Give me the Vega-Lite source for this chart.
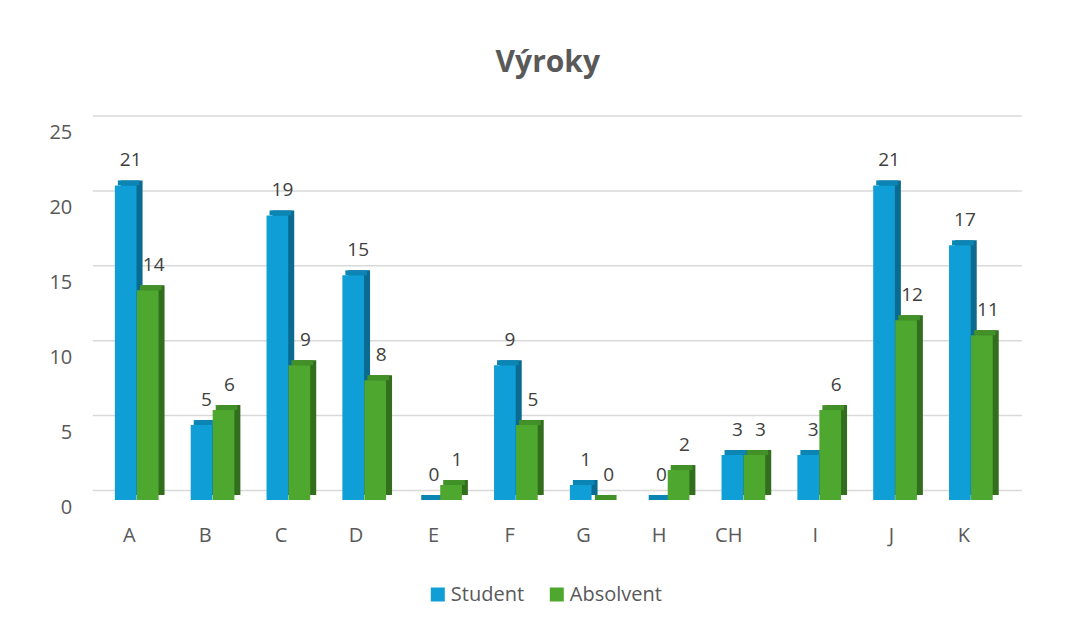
{
  "$schema": "https://vega.github.io/schema/vega-lite/v6.json",
  "autosize": "none",
  "width": 910,
  "height": 374.5,
  "padding": {"left": 92.8, "top": 125.5, "right": 62.2, "bottom": 125},
  "background": "white",
  "config": {
    "view": {"stroke": null},
    "font": "Open Sans",
    "axis": {"labelFont": "Open Sans", "labelColor": "#595959", "labelFontSize": 20},
    "legend": {"labelFont": "Open Sans", "labelColor": "#595959", "labelFontSize": 20}
  },
  "title": {
    "text": "Výroky",
    "fontSize": 30,
    "fontWeight": "bold",
    "color": "#595959",
    "font": "Open Sans",
    "anchor": "middle",
    "offset": 37
  },
  "datasets": {
    "main": [
      {"cat": "A", "series": "Student", "value": 21},
      {"cat": "A", "series": "Absolvent", "value": 14},
      {"cat": "B", "series": "Student", "value": 5},
      {"cat": "B", "series": "Absolvent", "value": 6},
      {"cat": "C", "series": "Student", "value": 19},
      {"cat": "C", "series": "Absolvent", "value": 9},
      {"cat": "D", "series": "Student", "value": 15},
      {"cat": "D", "series": "Absolvent", "value": 8},
      {"cat": "E", "series": "Student", "value": 0},
      {"cat": "E", "series": "Absolvent", "value": 1},
      {"cat": "F", "series": "Student", "value": 9},
      {"cat": "F", "series": "Absolvent", "value": 5},
      {"cat": "G", "series": "Student", "value": 1},
      {"cat": "G", "series": "Absolvent", "value": 0},
      {"cat": "H", "series": "Student", "value": 0},
      {"cat": "H", "series": "Absolvent", "value": 2},
      {"cat": "CH", "series": "Student", "value": 3},
      {"cat": "CH", "series": "Absolvent", "value": 3},
      {"cat": "I", "series": "Student", "value": 3},
      {"cat": "I", "series": "Absolvent", "value": 6},
      {"cat": "J", "series": "Student", "value": 21},
      {"cat": "J", "series": "Absolvent", "value": 12},
      {"cat": "K", "series": "Student", "value": 17},
      {"cat": "K", "series": "Absolvent", "value": 11}
    ],
    "grid": [{"v": 0}, {"v": 5}, {"v": 10}, {"v": 15}, {"v": 20}, {"v": 25}]
  },
  "data": {"name": "main"},
  "layer": [
    {
      "data": {"name": "grid"},
      "mark": {"type": "rule", "stroke": "#d9d9d9", "strokeWidth": 1.5, "xOffset": 19, "x2Offset": 20, "yOffset": -9.5},
      "encoding": {
        "y": {"field": "v", "type": "quantitative", "scale": {"domain": [0, 25], "nice": false},
          "axis": {"values": [0, 5, 10, 15, 20, 25], "grid": false, "domain": false, "ticks": false, "labelPadding": 21, "labelOffset": 7, "title": null}}
      }
    },
    {
      "transform": [{"filter": "datum.series === 'Student'"}],
      "mark": {"type": "bar", "width": {"band": 0.286}, "xOffset": 1, "yOffset": -5, "y2Offset": -5, "color": "#0b6a8f"},
      "encoding": {
        "x": {"field": "cat", "type": "nominal", "sort": null},
        "y": {"field": "value", "type": "quantitative"}
      }
    },
    {
      "transform": [{"filter": "datum.series === 'Student'"}],
      "mark": {"type": "bar", "width": {"band": 0.286}, "xOffset": -2, "yOffset": -5, "color": "#0c85b4"},
      "encoding": {
        "x": {"field": "cat", "type": "nominal", "sort": null},
        "y": {"field": "value", "type": "quantitative"},
        "y2": {"field": "value"}
      }
    },
    {
      "transform": [{"filter": "datum.series === 'Student'"}],
      "mark": {"type": "bar", "width": {"band": 0.286}, "xOffset": -5},
      "encoding": {
        "x": {"field": "cat", "type": "nominal", "sort": null,
          "scale": {"paddingInner": 0, "paddingOuter": 0},
          "axis": {"labelAngle": 0, "domain": false, "ticks": false, "labelPadding": 35, "labelOffset": 5, "title": null}},
        "y": {"field": "value", "type": "quantitative"},
        "color": {"field": "series", "type": "nominal",
          "scale": {"domain": ["Student", "Absolvent"], "range": ["#0F9ED5", "#4EA72E"]},
          "legend": {"orient": "none", "legendX": 335, "legendY": 459, "direction": "horizontal", "title": null,
            "symbolType": "square", "symbolSize": 196, "symbolStrokeWidth": 0, "labelOffset": 3, "columnPadding": 22}}
      }
    },
    {
      "transform": [{"filter": "datum.series === 'Absolvent'"}],
      "mark": {"type": "bar", "width": {"band": 0.286}, "xOffset": 23, "yOffset": -5, "y2Offset": -5, "color": "#336e1e"},
      "encoding": {
        "x": {"field": "cat", "type": "nominal", "sort": null},
        "y": {"field": "value", "type": "quantitative"}
      }
    },
    {
      "transform": [{"filter": "datum.series === 'Absolvent'"}],
      "mark": {"type": "bar", "width": {"band": 0.286}, "xOffset": 20, "yOffset": -5, "color": "#429028"},
      "encoding": {
        "x": {"field": "cat", "type": "nominal", "sort": null},
        "y": {"field": "value", "type": "quantitative"},
        "y2": {"field": "value"}
      }
    },
    {
      "transform": [{"filter": "datum.series === 'Absolvent'"}],
      "mark": {"type": "bar", "width": {"band": 0.286}, "xOffset": 17},
      "encoding": {
        "x": {"field": "cat", "type": "nominal", "sort": null},
        "y": {"field": "value", "type": "quantitative"},
        "color": {"field": "series", "type": "nominal"}
      }
    },
    {
      "transform": [{"filter": "datum.series === 'Student'"}],
      "mark": {"type": "text", "fontSize": 19, "color": "#404040", "baseline": "middle", "dy": -25, "dx": 0},
      "encoding": {
        "x": {"field": "cat", "type": "nominal", "sort": null},
        "y": {"field": "value", "type": "quantitative"},
        "text": {"field": "value", "type": "quantitative"}
      }
    },
    {
      "transform": [{"filter": "datum.series === 'Absolvent'"}],
      "mark": {"type": "text", "fontSize": 19, "color": "#404040", "baseline": "middle", "dy": -25, "dx": 23},
      "encoding": {
        "x": {"field": "cat", "type": "nominal", "sort": null},
        "y": {"field": "value", "type": "quantitative"},
        "text": {"field": "value", "type": "quantitative"}
      }
    }
  ]
}
